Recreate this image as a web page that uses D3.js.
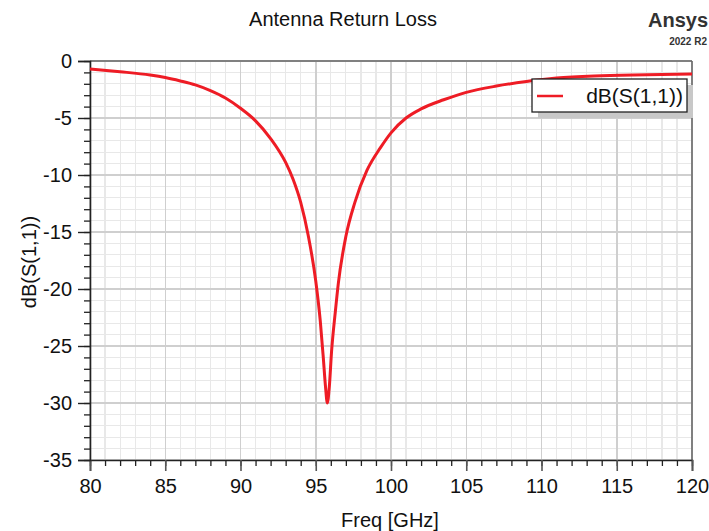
<!DOCTYPE html>
<html>
<head>
<meta charset="utf-8">
<script src="https://cdn.jsdelivr.net/npm/d3@7"></script>
<style>
  html, body { margin: 0; padding: 0; background: #fff; }
  svg { display: block; font-family: Arial, "Liberation Sans", sans-serif; }
</style>
</head>
<body>
<svg id="chart" width="709" height="531"></svg>
<script>
// S11 sweep, frequency in GHz and return loss in dB
const freqGHz = [80, 82, 84, 85, 86, 87, 88, 89, 90, 91, 92, 93, 93.5, 94, 94.5, 95, 95.3, 95.5, 95.65, 95.77,
                 95.9, 96.05, 96.3, 96.5, 97, 97.6, 98.4, 99.3, 100, 101, 102, 103.5, 105, 107, 109,
                 111, 114, 117, 120];
const s11dB = [-0.70, -0.94, -1.23, -1.45, -1.75, -2.1, -2.6, -3.25, -4.15, -5.25, -6.8, -8.9, -10.4, -12.4, -15.3, -19.3, -22.8, -26.0, -28.6, -30.0,
               -28.6, -25.5, -22.0, -19.5, -15.4, -12.4, -9.6, -7.6, -6.3, -5.0, -4.2, -3.4, -2.75, -2.2, -1.8,
               -1.5, -1.3, -1.2, -1.15];
const xTicks = [80, 85, 90, 95, 100, 105, 110, 115, 120];
const yTicks = [0, -5, -10, -15, -20, -25, -30, -35];
const seriesName = "dB(S(1,1))";

const W = 709, H = 531;
const m = { left: 90, right: 17, top: 61, bottom: 71 };
const iw = W - m.left - m.right, ih = H - m.top - m.bottom;
const FONT = "Arial, 'Liberation Sans', sans-serif";

const svg = d3.select("#chart");
const x = d3.scaleLinear().domain([80, 120]).range([0, iw]);
const y = d3.scaleLinear().domain([-35, 0]).range([ih, 0]);

const g = svg.append("g").attr("transform", `translate(${m.left},${m.top})`);

// minor grid (1 GHz / 1 dB)
const xMinor = d3.range(80, 121, 1);
const yMinor = d3.range(-35, 1, 1);
g.append("g").selectAll("line").data(xMinor).join("line")
  .attr("x1", d => x(d)).attr("x2", d => x(d)).attr("y1", 0).attr("y2", ih)
  .attr("stroke", "#e8e8e8").attr("stroke-width", 1.2).attr("shape-rendering", "crispEdges");
g.append("g").selectAll("line").data(yMinor).join("line")
  .attr("y1", d => y(d)).attr("y2", d => y(d)).attr("x1", 0).attr("x2", iw)
  .attr("stroke", "#e8e8e8").attr("stroke-width", 1.2).attr("shape-rendering", "crispEdges");
// major grid
g.append("g").selectAll("line").data(xTicks).join("line")
  .attr("x1", d => x(d)).attr("x2", d => x(d)).attr("y1", 0).attr("y2", ih)
  .attr("stroke", "#cfcfcf").attr("stroke-width", 1.5).attr("shape-rendering", "crispEdges");
g.append("g").selectAll("line").data(yTicks).join("line")
  .attr("y1", d => y(d)).attr("y2", d => y(d)).attr("x1", 0).attr("x2", iw)
  .attr("stroke", "#cfcfcf").attr("stroke-width", 1.5).attr("shape-rendering", "crispEdges");

// frame top/right
g.append("line").attr("x1", 0).attr("x2", iw).attr("y1", 0).attr("y2", 0)
  .attr("stroke", "#666").attr("stroke-width", 1.5);
g.append("line").attr("x1", iw).attr("x2", iw).attr("y1", 0).attr("y2", ih)
  .attr("stroke", "#666").attr("stroke-width", 1.5);

// axes: minor ticks
const xAxisMinor = d3.axisBottom(x).tickValues(xMinor).tickSize(6).tickFormat("");
const yAxisMinor = d3.axisLeft(y).tickValues(yMinor).tickSize(6).tickFormat("");
g.append("g").attr("transform", `translate(0,${ih})`).call(xAxisMinor)
  .call(s => s.select(".domain").remove())
  .selectAll("line").attr("stroke", "#222").attr("stroke-width", 1.3);
g.append("g").call(yAxisMinor)
  .call(s => s.select(".domain").remove())
  .selectAll("line").attr("stroke", "#222").attr("stroke-width", 1.3);

// axes: major ticks and labels (plain hyphen for negatives)
const plain = d => String(d);
const xAxis = d3.axisBottom(x).tickValues(xTicks).tickSize(11).tickPadding(8).tickFormat(plain);
const yAxis = d3.axisLeft(y).tickValues(yTicks).tickSize(12).tickPadding(6).tickFormat(plain);
const gx = g.append("g").attr("transform", `translate(0,${ih})`).call(xAxis);
gx.select(".domain").attr("stroke", "#222").attr("stroke-width", 1.6);
gx.selectAll(".tick line").attr("stroke", "#555").attr("stroke-width", 1.6);
gx.selectAll(".tick text").attr("font-size", 20).attr("fill", "#111").attr("font-family", FONT);
const gy = g.append("g").call(yAxis);
gy.select(".domain").attr("stroke", "#222").attr("stroke-width", 1.6);
gy.selectAll(".tick line").attr("stroke", "#222").attr("stroke-width", 1.4);
gy.selectAll(".tick text").attr("font-size", 20).attr("fill", "#111").attr("font-family", FONT);

// curve
const line = d3.line().x((d, i) => x(freqGHz[i])).y(d => y(d)).curve(d3.curveMonotoneX);
g.append("path").datum(s11dB).attr("d", line)
  .attr("fill", "none").attr("stroke", "#ee1c25").attr("stroke-width", 3)
  .attr("stroke-linejoin", "round");

// legend with drop shadow
const lg = svg.append("g").attr("transform", "translate(532,79)");
lg.append("rect").attr("x", 6).attr("y", 6).attr("width", 155).attr("height", 33).attr("fill", "#c8c8c8");
lg.append("rect").attr("x", 0).attr("y", 0).attr("width", 155).attr("height", 33)
  .attr("fill", "#fff").attr("stroke", "#222").attr("stroke-width", 1.3);
lg.append("line").attr("x1", 5).attr("x2", 31).attr("y1", 17).attr("y2", 17)
  .attr("stroke", "#ee1c25").attr("stroke-width", 2.5);
lg.append("text").attr("x", 151).attr("y", 24).attr("text-anchor", "end")
  .attr("font-size", 21).attr("fill", "#111").text(seriesName);

// titles
svg.append("text").attr("x", 343).attr("y", 26).attr("text-anchor", "middle")
  .attr("font-size", 20).attr("fill", "#111").text("Antenna Return Loss");
svg.append("text").attr("x", 708).attr("y", 27).attr("text-anchor", "end")
  .attr("font-size", 20).attr("font-weight", "bold").attr("fill", "#333").text("Ansys");
svg.append("text").attr("x", 707).attr("y", 45).attr("text-anchor", "end")
  .attr("font-size", 10).attr("font-weight", "bold").attr("fill", "#333").text("2022 R2");

// axis titles
svg.append("text").attr("x", 390).attr("y", 527).attr("text-anchor", "middle")
  .attr("font-size", 20).attr("fill", "#111").text("Freq [GHz]");
svg.append("text").attr("transform", "translate(36,262) rotate(-90)").attr("text-anchor", "middle")
  .attr("font-size", 20).attr("fill", "#111").text(seriesName);
</script>
</body>
</html>
